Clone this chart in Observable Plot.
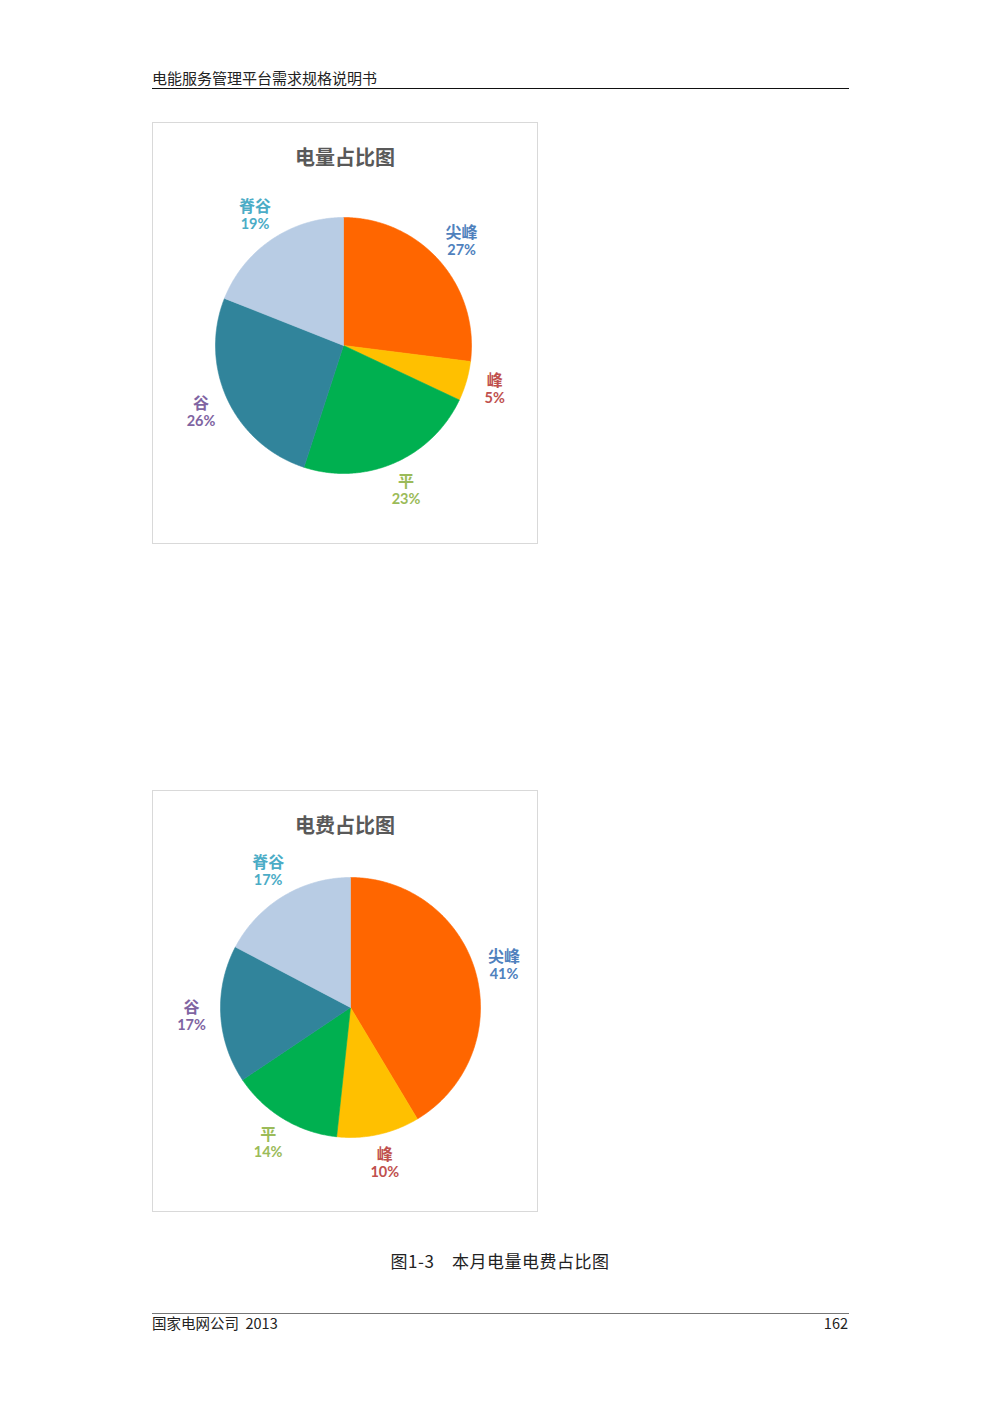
<!DOCTYPE html>
<html><head><meta charset="utf-8">
<script src="https://cdn.jsdelivr.net/npm/d3@7"></script>
<script src="https://cdn.jsdelivr.net/npm/@observablehq/plot@0.6"></script>
<style>
html,body{margin:0;padding:0;background:#fff;}
body{width:1000px;height:1415px;position:relative;font-family:"Noto Sans CJK SC",sans-serif;overflow:hidden;}
.abs{position:absolute;white-space:nowrap;}
.header{left:152px;top:68px;font-size:15px;line-height:20px;color:#222;}
.hline{left:152px;width:697px;top:88px;height:0;border-top:1.6px solid #111;}
.box{position:absolute;left:152px;width:384px;height:420px;border:1px solid #d9d9d9;background:#fff;}
.box svg{position:absolute;left:0;top:0;overflow:visible;}
.title{position:absolute;left:0;width:100%;text-align:center;top:22px;font-size:20px;line-height:24px;font-weight:bold;color:#595959;z-index:2;}
.caption{left:0;width:1000px;text-align:center;top:1250px;font-size:17px;line-height:22px;letter-spacing:0.5px;color:#222;}
.fline{left:152px;width:697px;top:1313px;height:0;border-top:1.5px solid #777;}
.ftext{top:1313px;font-size:14.5px;line-height:20px;color:#222;}
</style>
</head><body>
<div class="abs header">电能服务管理平台需求规格说明书</div>
<div class="abs hline"></div>
<div class="box" id="box1" style="top:122px"><div class="title">电量占比图</div></div>
<div class="box" id="box2" style="top:790px"><div class="title">电费占比图</div></div>
<div class="abs caption">图1-3　本月电量电费占比图</div>
<div class="abs fline"></div>
<div class="abs ftext" style="left:152px">国家电网公司&nbsp; 2013</div>
<div class="abs ftext" style="right:152px">162</div>
<script>
// Data
const categories = ["尖峰", "峰", "平", "谷", "脊谷"];
const energyValues = [27, 5, 23, 26, 19];
const energyLabels = ["27%", "5%", "23%", "26%", "19%"];
const costValues = [41.4, 10.3, 13.9, 17.1, 17.3];
const costLabels = ["41%", "10%", "14%", "17%", "17%"];
// Styles
const sliceColors = ["#FF6600", "#FFC000", "#00B050", "#31849B", "#B8CCE4"];
const labelColors = ["#4F81BD", "#C0504D", "#9BBB59", "#8064A2", "#4BACC6"];

function pieChart(values, pcts, cx, cy, R, labelR) {
  const arcs = d3.pie().sort(null).value(d => d)(values);
  const pts = [];
  arcs.forEach((a, i) => {
    const n = Math.max(2, Math.ceil((a.endAngle - a.startAngle) / (Math.PI / 360)));
    pts.push({k: i, x: 0, y: 0, c: sliceColors[i]});
    for (let j = 0; j <= n; j++) {
      const t = a.startAngle + (a.endAngle - a.startAngle) * j / n;
      pts.push({k: i, x: Math.sin(t), y: Math.cos(t), c: sliceColors[i]});
    }
    pts.push({k: i, x: 0, y: 0, c: sliceColors[i]});
  });
  const labs = arcs.map((a, i) => {
    const m = (a.startAngle + a.endAngle) / 2;
    return {x: labelR * Math.sin(m), y: labelR * Math.cos(m), name: categories[i], pct: pcts[i], c: labelColors[i]};
  });
  return Plot.plot({
    width: 384, height: 420, margin: 0,
    style: {background: "transparent", overflow: "visible"},
    x: {domain: [-1, 1], range: [cx - R, cx + R], axis: null},
    y: {domain: [-1, 1], range: [cy + R, cy - R], axis: null},
    color: {type: "identity"},
    marks: [
      Plot.line(pts, {x: "x", y: "y", z: "k", fill: "c", stroke: "c", strokeWidth: 0.6, curve: "linear"}),
      Plot.text(labs, {x: "x", y: "y", text: "name", fill: "c", fontSize: 16, fontWeight: "bold", dy: -8.5,
        fontFamily: "'Noto Sans CJK SC', sans-serif"}),
      Plot.text(labs, {x: "x", y: "y", text: "pct", fill: "c", fontSize: 14.5, fontWeight: "bold", dy: 9,
        fontFamily: "Lato, 'Noto Sans CJK SC', sans-serif"})
    ]
  });
}

document.getElementById("box1").appendChild(pieChart(energyValues, energyLabels, 190, 222, 128, 1.23));
document.getElementById("box2").appendChild(pieChart(costValues, costLabels, 197, 216, 130, 1.225));
</script>
</body></html>
